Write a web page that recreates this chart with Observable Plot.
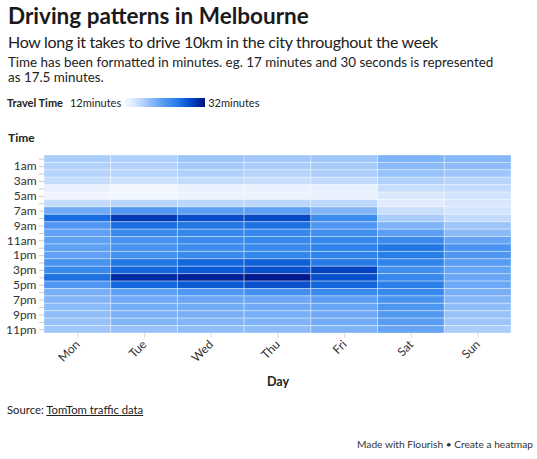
<!DOCTYPE html>
<html>
<head>
<meta charset="utf-8">
<script src="https://cdn.jsdelivr.net/npm/d3@7"></script>
<script src="https://cdn.jsdelivr.net/npm/@observablehq/plot@0.6"></script>
<style>
  html, body { margin: 0; padding: 0; background: #fff; }
  body { width: 537px; height: 459px; position: relative; overflow: hidden; font-family: Lato, "Noto Sans", sans-serif; color: #222; }
  .abs { position: absolute; white-space: nowrap; }
  #title { left: 8px; top: 2px; font-size: 22.5px; font-weight: 700; color: #1a1a1a; }
  #subtitle { left: 8px; top: 32px; font-size: 16px; letter-spacing: -0.3px; color: #222; }
  #desc { left: 8px; top: 55px; font-size: 13.4px; line-height: 15px; color: #222; white-space: normal; width: 500px; }
  #legend { left: 7px; top: 96px; font-size: 11px; display: flex; align-items: center; color: #222; }
  #legend b { margin-right: 7px; }
  #bar { width: 80px; height: 9px; margin: 0 3px 0 4px; }
  #ylabel { left: 8px; top: 130px; font-size: 12px; font-weight: 700; color: #222; }
  #chart { left: 0; top: 145px; width: 537px; }
  #chart svg { display: block; }
  #chart svg g[aria-label="x-axis label"] text { font-weight: 700; font-size: 12.5px; fill: #222; }
  #source { left: 7px; top: 403px; font-size: 11.3px; color: #222; }
  #source a { color: #222; text-decoration: underline; }
  #credit { right: 4px; top: 438px; font-size: 10.2px; color: #333; }
</style>
</head>
<body>
<div id="title" class="abs">Driving patterns in Melbourne</div>
<div id="subtitle" class="abs">How long it takes to drive 10km in the city throughout the week</div>
<div id="desc" class="abs">Time has been formatted in minutes. eg. 17 minutes and 30 seconds is represented as 17.5 minutes.</div>
<div id="legend" class="abs"><b>Travel Time</b><span>12minutes</span><div id="bar"></div><span>32minutes</span></div>
<div id="ylabel" class="abs">Time</div>
<div id="chart" class="abs"></div>
<div id="source" class="abs">Source: <a>TomTom traffic data</a></div>
<div id="credit" class="abs">Made with Flourish • Create a heatmap</div>
<script>
const days = ["Mon", "Tue", "Wed", "Thu", "Fri", "Sat", "Sun"];
const hours = ["12am","1am","2am","3am","4am","5am","6am","7am","8am","9am","10am","11am",
               "12pm","1pm","2pm","3pm","4pm","5pm","6pm","7pm","8pm","9pm","10pm","11pm"];
const hourTicksShown = ["1am","3am","5am","7am","9am","11am","1pm","3pm","5pm","7pm","9pm","11pm"];

// travel time in minutes, 12am..11pm
const mon = [17, 16.5, 16.3, 15.5, 13, 12.5, 15.5, 20, 26, 22, 21, 21, 21, 21, 22.5, 23.5, 25.8, 22, 19.5, 19, 18.5, 18.3, 18, 17.5];
const tue = [16.8, 16.5, 16.2, 15, 12.3, 12.3, 16.2, 22, 29.5, 26, 23.5, 22.5, 22.5, 22.7, 25.3, 26.5, 30.5, 26.5, 21, 20, 19.7, 19.3, 19, 18];
const wed = [17.7, 17.3, 16.7, 15.5, 13, 12.8, 16, 21.2, 28.2, 25.3, 23.8, 23.5, 23.2, 23.5, 26.5, 27.3, 31, 27.3, 22, 20.3, 19.8, 19.5, 19, 18.3];
const thu = [17.4, 17, 16.4, 15.3, 13, 12.8, 16, 21.2, 28.5, 25.8, 23.8, 23.8, 23.5, 24, 27, 28, 31.5, 28, 22.8, 20.3, 20, 19.6, 19.2, 18.4];
const fri = [17.5, 17.2, 16.8, 15.7, 13.2, 13, 16, 19, 23.4, 22, 23, 23.8, 24.4, 24.3, 25, 28.8, 28, 26.5, 23.5, 21.2, 20.5, 20, 19.9, 19.2];
const sat = [19.2, 18.6, 17.9, 16.7, 15.4, 14.2, 13.7, 15.2, 17, 19.2, 21.2, 23.6, 25.3, 24.8, 24.2, 23, 23.8, 24.6, 23.7, 22.5, 22.2, 21.8, 21.4, 20.6];
const sun = [18.8, 18.4, 17.6, 16.3, 15.6, 14.8, 14.4, 14.6, 15.6, 17.6, 18.6, 20.6, 22.3, 22, 21.4, 20.6, 20.4, 20.2, 19.5, 18.9, 18.4, 17.9, 17.6, 17];
const series = [mon, tue, wed, thu, fri, sat, sun];

const colorDomain = [12, 32];
const colorStops = ["#f6f9ff", "#d6e6fd", "#aacdfb", "#78aff7", "#4f97f2", "#2c82ea", "#0e5fda", "#003ab7", "#001282"];

const table = [];
days.forEach((day, i) => hours.forEach((h, j) => table.push({day, hour: h, value: series[i][j]})));

document.getElementById("bar").style.background = `linear-gradient(to right, ${colorStops.join(", ")})`;

const chart = Plot.plot({
  width: 537,
  height: 250,
  marginLeft: 44,
  marginRight: 26,
  marginTop: 10,
  marginBottom: 62,
  style: {fontFamily: "Lato, 'Noto Sans', sans-serif", fontSize: "12px", color: "#333", background: "transparent"},
  x: {domain: days, padding: 0, round: false, label: null},
  y: {domain: hours, padding: 0, round: false, label: null},
  color: {type: "linear", domain: colorDomain, interpolate: d3.piecewise(d3.interpolateRgb, colorStops)},
  marks: [
    Plot.cell(table, {x: "day", y: "hour", fill: "value", stroke: "white", strokeWidth: 1, strokeOpacity: 0.35}),
    Plot.axisY({tickSize: 5, tickPadding: 3, stroke: "#ccc", tickFormat: d => hourTicksShown.includes(d) ? d : "", fontSize: 12, color: "#333"}),
    Plot.axisX({tickSize: 5, tickPadding: 4, stroke: "#ddd", tickRotate: -45, fontSize: 12, label: "Day", labelAnchor: "center", labelOffset: 52})
  ]
});
document.getElementById("chart").appendChild(chart);
</script>
</body>
</html>
